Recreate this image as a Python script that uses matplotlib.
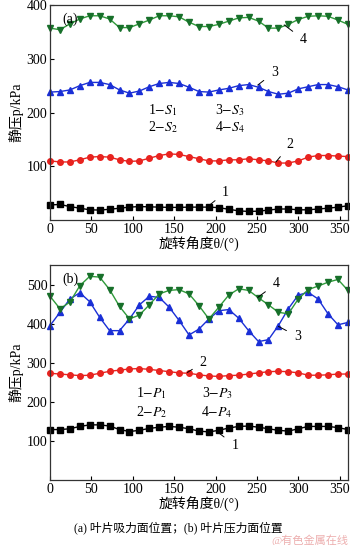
import matplotlib
matplotlib.use("Agg")
import matplotlib.pyplot as plt
import numpy as np

plt.rcParams['font.family'] = ['Liberation Serif', 'Noto Sans CJK SC', 'DejaVu Sans']
plt.rcParams['mathtext.fontset'] = 'stix'
plt.rcParams['font.size'] = 9

theta = np.arange(0, 361, 12)

# (a) suction side
S1 = [28, 29, 25, 22, 19, 18.5, 20, 22, 24, 25, 24.5, 24, 23.5, 23.5, 24, 24,
      24, 23, 20, 17, 16, 16.5, 18.5, 20.5, 20.5, 19, 19, 20.5, 22, 24, 26.5]
S2 = [110, 108, 108, 112, 117, 118, 117, 112, 109, 110, 115, 120, 123, 122, 118, 114,
      110, 110, 112, 112, 114, 112, 110, 106, 106, 110, 117, 120, 120, 119, 118]
S3 = [238, 239, 242, 250, 256, 256, 252, 242, 236, 240, 248, 254, 256, 254, 247, 239,
      238, 242, 245, 250, 252, 247, 239, 234, 236, 244, 248, 252, 252, 248, 242]
S4 = [357, 354, 365, 374, 380, 380, 374, 358, 358, 365, 372, 380, 380, 378, 368, 360,
      360, 364, 370, 376, 377, 370, 357, 357, 364, 373, 379, 380, 379, 372, 364]

# (b) pressure side
P1 = [129, 129, 131, 137, 141, 141, 138, 129, 124, 127, 132, 135, 137, 135, 131, 125,
      123, 127, 133, 137, 138, 135, 131, 127, 125, 131, 137, 137, 137, 134, 129]
P2 = [273, 271, 269, 267, 268, 273, 278, 281, 284, 285, 283, 280, 277, 274, 273, 269,
      266, 265, 267, 268, 271, 274, 277, 278, 277, 274, 268, 268, 269, 271, 271]
P3 = [395, 429, 463, 479, 456, 416, 382, 382, 412, 448, 470, 467, 442, 408, 371, 386,
      412, 433, 436, 414, 382, 354, 359, 395, 438, 473, 480, 463, 425, 397, 403]
P4 = [470, 438, 455, 497, 521, 519, 487, 444, 412, 422, 448, 476, 485, 487, 476, 446,
      412, 442, 473, 489, 485, 466, 448, 429, 425, 463, 487, 496, 506, 513, 485]

xlabel = '旋转角度θ/(°)'
ylabel = '静压p/kPa'

styles = [
    dict(color='black', marker='s', mfc='black', mec='black'),
    dict(color='#e8231f', marker='o', mfc='#e8231f', mec='#e8231f'),
    dict(color='#1a2fd6', marker='^', mfc='#1a2fd6', mec='#1a2fd6'),
    dict(color='#2f9a3a', marker='v', mfc='#17702a', mec='#17702a'),
]

fig = plt.figure(figsize=(3.5, 5.45), dpi=100)
ax1 = fig.add_axes([0.143, 0.5963, 0.851, 0.3945])
ax2 = fig.add_axes([0.143, 0.1193, 0.851, 0.3945])


def draw(ax, series, ylim, yticks):
    for s, st in zip(series, styles):
        ax.plot(theta, s, lw=1.0, ms=4, clip_on=False, **st)
    ax.set_xlim(0, 360)
    ax.set_ylim(*ylim)
    ax.set_xticks(np.arange(0, 351, 50))
    ax.set_yticks(yticks)
    ax.tick_params(direction='in', length=3, width=0.8, labelsize=10, pad=2)
    for sp in ax.spines.values():
        sp.set_linewidth(0.9)
        sp.set_color('#333333')
    ax.set_xlabel(xlabel, fontsize=10, labelpad=1)
    ax.set_ylabel(ylabel, fontsize=10, labelpad=2)


def note(ax, text, xy, xytext):
    ax.annotate(text, xy=xy, xytext=xytext, fontsize=10, ha='left', va='center',
                arrowprops=dict(arrowstyle='-', lw=0.7, color='black', shrinkA=4, shrinkB=0))


draw(ax1, [S1, S2, S3, S4], (0, 400), [100, 200, 300, 400])
draw(ax2, [P1, P2, P3, P4], (0, 550), [100, 200, 300, 400, 500])

ax1.text(0.04, 0.965, '(a)', transform=ax1.transAxes, fontsize=10, va='top')
ax2.text(0.04, 0.965, '(b)', transform=ax2.transAxes, fontsize=10, va='top')

note(ax1, '4', (283, 363), (302, 336))
note(ax1, '3', (251, 251), (267, 275))
note(ax1, '2', (273, 108), (286, 140))
note(ax1, '1', (193, 28), (208, 52))
ax1.text(136, 205, '1$-S_1$', ha='center', va='center', fontsize=10)
ax1.text(217, 205, '3$-S_3$', ha='center', va='center', fontsize=10)
ax1.text(136, 172, '2$-S_2$', ha='center', va='center', fontsize=10)
ax1.text(217, 172, '4$-S_4$', ha='center', va='center', fontsize=10)

note(ax2, '4', (251, 467), (269, 502))
note(ax2, '3', (276, 393), (295, 367))
note(ax2, '2', (166, 275), (181, 301))
note(ax2, '1', (203, 122), (219, 89))
ax2.text(123, 222, '1$-P_1$', ha='center', va='center', fontsize=10)
ax2.text(202, 222, '3$-P_3$', ha='center', va='center', fontsize=10)
ax2.text(123, 173, '2$-P_2$', ha='center', va='center', fontsize=10)
ax2.text(202, 173, '4$-P_4$', ha='center', va='center', fontsize=10)

fig.text(0.51, 0.032, '(a) 叶片吸力面位置；(b) 叶片压力面位置', ha='center', va='center', fontsize=8.5)
fig.text(0.995, 0.008, '@有色金属在线', ha='right', va='center', fontsize=8,
         color='#e89a9a', alpha=0.8)

fig.savefig('out.png', dpi=100)
